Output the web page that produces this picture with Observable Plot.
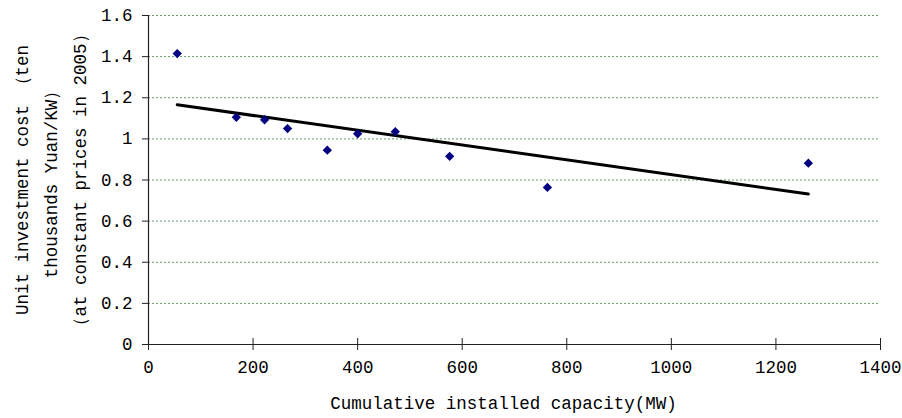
<!DOCTYPE html>
<html>
<head>
<meta charset="utf-8">
<script src="https://cdn.jsdelivr.net/npm/d3@7"></script>
<script src="https://cdn.jsdelivr.net/npm/@observablehq/plot@0.6"></script>
<style>
  html, body { margin: 0; padding: 0; background: #fff; }
  #chart svg { display: block; }
</style>
</head>
<body>
<div id="chart"></div>
<script>
// Cumulative installed capacity (MW)
const capacity = [55, 168, 222, 266, 342, 400, 472, 576, 763, 1262];
// Unit investment cost (ten thousands Yuan/KW)
const unitCost = [1.415, 1.105, 1.093, 1.05, 0.945, 1.025, 1.035, 0.915, 0.764, 0.882];

const xTicks = [0, 200, 400, 600, 800, 1000, 1200, 1400];
const xTickLabels = ["0", "200", "400", "600", "800", "1000", "1200", "1400"];
const yTicks = [0, 0.2, 0.4, 0.6, 0.8, 1, 1.2, 1.4, 1.6];
const yTickLabels = ["0", "0.2", "0.4", "0.6", "0.8", "1", "1.2", "1.4", "1.6"];

const xLabel = "Cumulative installed capacity(MW)";
const yLabelLines = ["Unit investment cost （ten", "thousands Yuan/KW）", "（at constant prices in 2005）"];

const points = capacity.map((c, i) => ({x: c, y: unitCost[i]}));

const FONT = "'Liberation Mono', 'DejaVu Sans Mono', monospace";
const FS = 17.5;

const chart = Plot.plot({
  width: 902,
  height: 418,
  marginLeft: 148,
  marginRight: 22,
  marginTop: 15,
  marginBottom: 74,
  style: {fontFamily: FONT, fontSize: FS + "px", color: "#000", background: "#fff"},
  x: {domain: [0, 1400]},
  y: {domain: [0, 1.6]},
  marks: [
    Plot.gridY(yTicks.filter(d => d > 0), {stroke: "#5f9a5f", strokeOpacity: 1, strokeDasharray: "2,2", strokeWidth: 1}),
    Plot.ruleY([0], {stroke: "#222", strokeWidth: 1.2}),
    Plot.ruleX([0], {stroke: "#222", strokeWidth: 1.2}),
    Plot.axisY(yTicks, {
      tickSize: 6, tickPadding: 10, stroke: "#222", fontSize: FS,
      tickFormat: d => yTickLabels[yTicks.indexOf(d)], label: null, fill: "#000"
    }),
    Plot.axisX(xTicks, {
      tickSize: 6, tickPadding: 10, stroke: "#222", fontSize: FS,
      tickFormat: d => xTickLabels[xTicks.indexOf(d)], label: null, fill: "#000"
    }),
    Plot.axisX(xTicks, {
      tickSize: 6, dy: -6, stroke: "#222",
      tickFormat: () => "", label: null
    }),
    Plot.linearRegressionY(points, {x: "x", y: "y", stroke: "#000", strokeWidth: 3, ci: 0}),
    Plot.dot(points, {x: "x", y: "y", symbol: "diamond2", r: 4.2, fill: "#000080", stroke: "none"}),
    Plot.text([xLabel], {frameAnchor: "bottom", dx: -11, dy: 59, fontSize: FS, fill: "#000", lineAnchor: "middle"}),
    Plot.text([yLabelLines.join("\n")], {
      frameAnchor: "left", rotate: -90, dx: -101, dy: 0,
      lineHeight: 1.65, fontSize: FS, fill: "#000", lineAnchor: "middle", textAnchor: "middle"
    })
  ]
});
document.getElementById("chart").appendChild(chart);
</script>
</body>
</html>
